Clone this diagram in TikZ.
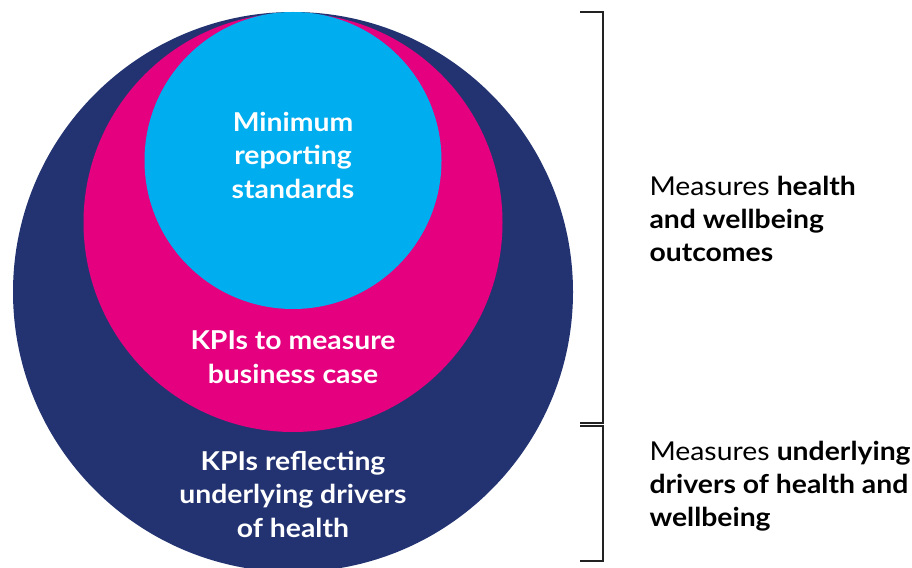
\documentclass[tikz,border=0pt]{standalone}
\usepackage{fontspec}
\setmainfont{Lato}[FakeStretch=1.09]
\definecolor{navy}{HTML}{233372}
\definecolor{pinkc}{HTML}{E4007E}
\definecolor{cyanc}{HTML}{00ADEE}
\definecolor{brk}{HTML}{222222}
\begin{document}
\begin{tikzpicture}[x=1pt,y=-1pt,
  disc/.style={circle,inner sep=0pt,outer sep=0pt,draw=none},
  intext/.style={text=white,align=center,font=\bfseries\fontsize{26}{33.5}\selectfont},
  sidetext/.style={text=black,align=left,anchor=west,font=\fontsize{26}{33}\selectfont},
  brack/.style={draw=brk,line width=2pt}]
\useasboundingbox (0,0) rectangle (912,567);
\clip (0,0) rectangle (912,567);
\fill[white] (0,0) rectangle (912,567);
\node[disc,fill=navy,minimum size=560pt] (outer) at (293,292) {};
\node[disc,fill=pinkc,minimum size=419pt] (mid) at (293,222.5) {};
\node[disc,fill=cyanc,minimum size=297pt] (inner) at (293,160.5) {};
\node[intext] (t1) at (293,155) {Minimum\\reporting\\standards};
\node[intext] (t2) at (293,357) {KPIs to measure\\business case};
\node[intext] (t3) at (293,494) {KPIs reflecting\\underlying drivers\\of health};
\node[sidetext] (s1) at (646,219) {Measures \textbf{health}\\\textbf{and wellbeing}\\\textbf{outcomes}};
\node[sidetext] (s2) at (646,486) {Measures \textbf{underlying}\\\textbf{drivers of health and}\\\textbf{wellbeing}};
\coordinate (a1) at (580,12);
\coordinate (a2) at (603,12);
\coordinate (a3) at (603,423);
\coordinate (a4) at (580,423);
\coordinate (b1) at (580,426);
\coordinate (b2) at (603,426);
\coordinate (b3) at (603,561);
\coordinate (b4) at (580,561);
\draw[brack] (a1) -- (a2) -- (a3) -- (a4);
\draw[brack] (b1) -- (b2) -- (b3) -- (b4);
\end{tikzpicture}
\end{document}
